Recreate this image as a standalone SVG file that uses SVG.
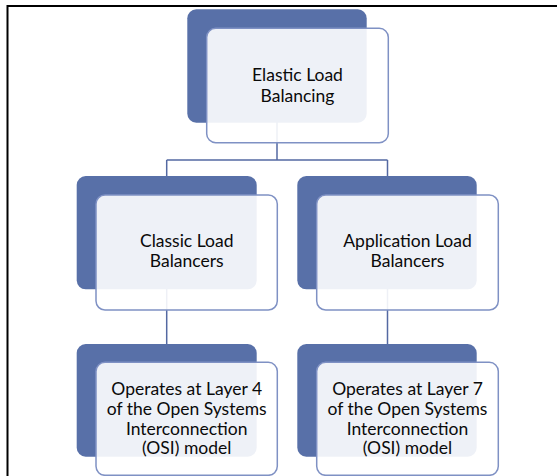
<svg xmlns="http://www.w3.org/2000/svg" width="557" height="476" viewBox="0 0 557 476">
  <style>
    .dark { fill: #5870a8; }
    .light { fill: #ffffff; fill-opacity: 0.9; stroke: #7f91c4; stroke-width: 1.5; }
    .conn { fill: none; stroke: #5469a2; stroke-width: 1.5; }
    .frame { fill: none; stroke: #000000; stroke-width: 2; }
    text { font-family: "Lato", "Open Sans", sans-serif; font-size: 17.5px; fill: #0a0a0a; text-anchor: middle; }
  </style>
  <rect x="0" y="0" width="557" height="476" fill="#ffffff"/>
  <path class="frame" d="M7.5,476 V6 H557"/>
  <g id="connectors">
    <path class="conn" d="M277,122 V160 M166.7,160 H387.5 M166.7,160 V176 M387.5,160 V176 M166.7,289 V344 M387.5,289 V344"/>
  </g>
  <g id="elb">
    <rect class="dark" x="187.3" y="9.3" width="179.4" height="113.4" rx="9"/>
    <rect class="light" x="206.7" y="28.3" width="181.6" height="114.4" rx="9"/>
    <text x="297.5" y="81">Elastic Load</text>
    <text x="297.5" y="101.5">Balancing</text>
  </g>
  <g id="classic">
    <rect class="dark" x="76.7" y="176" width="180" height="113.3" rx="9"/>
    <rect class="light" x="96" y="195" width="181.3" height="115" rx="9"/>
    <text x="186.7" y="247.3">Classic Load</text>
    <text x="186.7" y="267.3">Balancers</text>
  </g>
  <g id="application">
    <rect class="dark" x="297.3" y="176" width="179.4" height="113.3" rx="9"/>
    <rect class="light" x="316.7" y="195" width="181.6" height="115" rx="9"/>
    <text x="407.5" y="247.3">Application Load</text>
    <text x="407.5" y="267.3">Balancers</text>
  </g>
  <g id="layer4">
    <rect class="dark" x="76.7" y="344" width="180" height="112.7" rx="9"/>
    <rect class="light" x="96" y="362.3" width="181.3" height="113" rx="9"/>
    <text x="186.7" y="395">Operates at Layer 4</text>
    <text x="186.7" y="415">of the Open Systems</text>
    <text x="186.7" y="434.5">Interconnection</text>
    <text x="186.7" y="454">(OSI) model</text>
  </g>
  <g id="layer7">
    <rect class="dark" x="297.3" y="344" width="179.4" height="112.7" rx="9"/>
    <rect class="light" x="316.7" y="362.3" width="181.6" height="113" rx="9"/>
    <text x="407.5" y="395">Operates at Layer 7</text>
    <text x="407.5" y="415">of the Open Systems</text>
    <text x="407.5" y="434.5">Interconnection</text>
    <text x="407.5" y="454">(OSI) model</text>
  </g>
</svg>
